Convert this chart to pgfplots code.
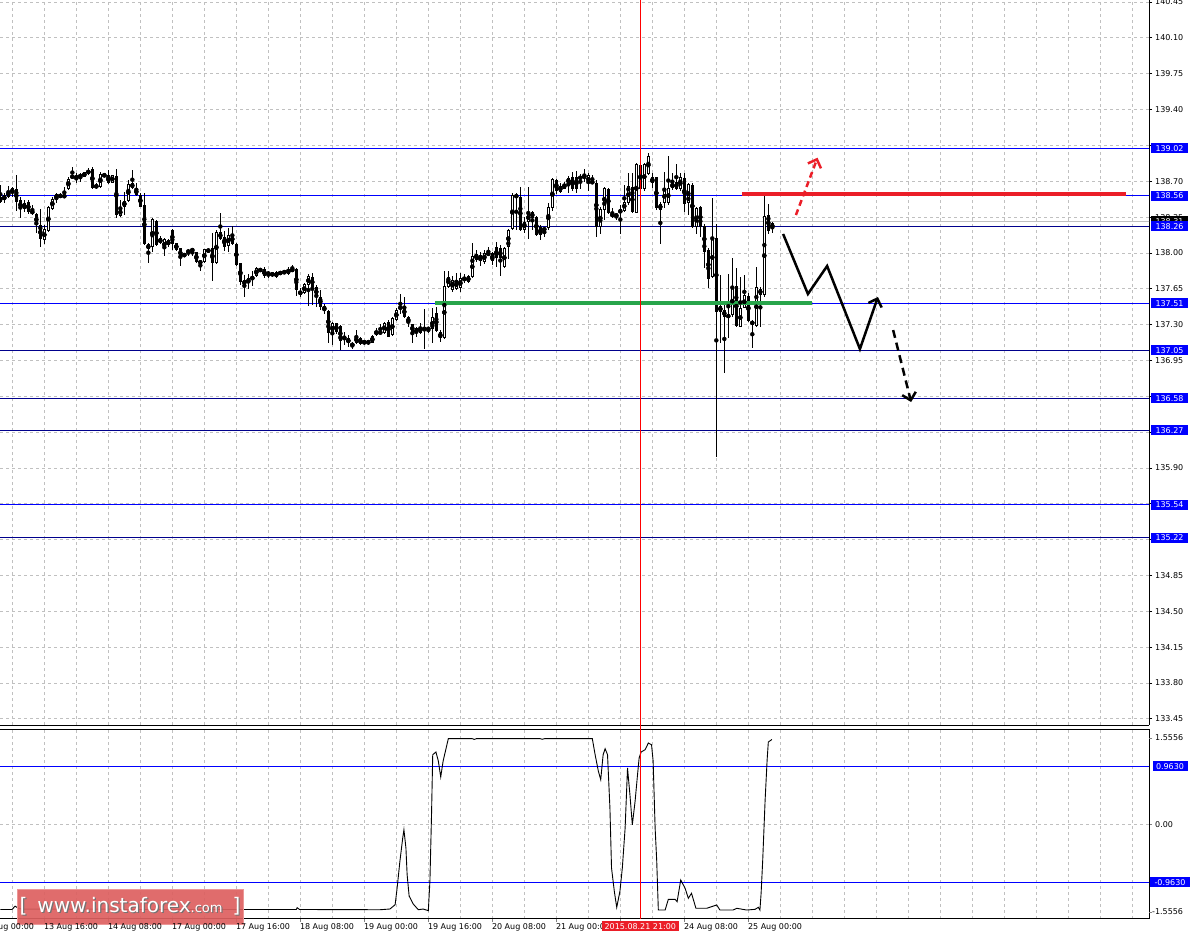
\documentclass[border=0pt]{standalone}
\usepackage{fontspec}
\setmainfont{DejaVu Sans}
\usepackage{pgfplots}
\usepackage{pgfplotstable}
\pgfplotsset{compat=1.18}
\usetikzlibrary{arrows.meta}

\definecolor{mtgrid}{RGB}{192,192,192}
\definecolor{lvlblue}{RGB}{0,0,255}
\definecolor{lvldark}{RGB}{0,0,140}
\definecolor{mtred}{RGB}{235,30,40}
\definecolor{mtgreen}{RGB}{40,165,75}
\definecolor{wmred}{RGB}{221,96,96}
\definecolor{wmedge}{RGB}{236,150,150}

% bar index, open, high, low, close (H1 bars)
\pgfplotstableread{
k o h l c
0 138.500 138.663 138.484 138.549
1 138.517 138.582 138.491 138.566
2 138.549 138.653 138.533 138.605
3 138.582 138.647 138.549 138.631
4 138.621 138.761 138.413 138.500
5 138.517 138.549 138.338 138.426
6 138.426 138.517 138.403 138.491
7 138.500 138.517 138.387 138.403
8 138.419 138.468 138.370 138.380
9 138.380 138.387 138.191 138.273
10 138.273 138.426 138.061 138.133
11 138.126 138.273 138.084 138.230
12 138.217 138.458 138.207 138.445
13 138.426 138.549 138.419 138.533
14 138.523 138.588 138.484 138.572
15 138.543 138.582 138.533 138.572
16 138.566 138.647 138.533 138.543
17 138.621 138.745 138.614 138.728
18 138.738 138.842 138.728 138.751
19 138.751 138.777 138.680 138.732
20 138.738 138.784 138.696 138.767
21 138.745 138.793 138.738 138.787
22 138.771 138.826 138.761 138.810
23 138.819 138.842 138.621 138.631
24 138.663 138.680 138.621 138.640
25 138.640 138.793 138.637 138.771
26 138.745 138.784 138.738 138.771
27 138.761 138.810 138.673 138.680
28 138.686 138.767 138.680 138.761
29 138.754 138.816 138.338 138.370
30 138.361 138.517 138.354 138.435
31 138.445 138.598 138.370 138.510
32 138.510 138.712 138.500 138.673
33 138.686 138.810 138.621 138.631
34 138.631 138.680 138.556 138.566
35 138.566 138.582 138.445 138.452
36 138.468 138.582 138.077 138.087
37 138.087 138.100 137.905 138.035
38 138.055 138.338 138.012 138.328
39 138.312 138.321 138.068 138.077
40 138.094 138.165 138.084 138.142
41 138.035 138.142 137.970 138.133
42 138.126 138.133 138.061 138.077
43 138.224 138.230 138.029 138.087
44 138.094 138.100 138.022 138.029
45 138.045 138.052 137.875 137.957
46 137.963 138.002 137.957 137.996
47 138.002 138.035 137.970 138.029
48 138.022 138.042 137.970 138.035
49 138.006 138.012 137.898 137.915
50 137.915 137.931 137.827 137.905
51 137.915 138.042 137.898 138.035
52 138.012 138.042 138.002 138.035
53 138.045 138.198 137.729 137.898
54 137.898 138.230 137.889 138.207
55 138.207 138.393 138.126 138.133
56 138.152 138.217 138.019 138.061
57 138.068 138.240 138.012 138.175
58 138.185 138.263 138.081 138.087
59 138.087 138.094 137.872 137.882
60 137.898 137.905 137.687 137.719
61 137.736 137.784 137.573 137.687
62 137.703 137.791 137.654 137.752
63 137.736 137.827 137.677 137.775
64 137.775 137.866 137.768 137.849
65 137.827 137.849 137.817 137.840
66 137.846 137.859 137.752 137.775
67 137.784 137.827 137.752 137.817
68 137.810 137.817 137.768 137.775
69 137.762 137.827 137.752 137.817
70 137.801 137.810 137.798 137.807
71 137.807 137.830 137.801 137.817
72 137.794 137.866 137.784 137.843
73 137.840 137.882 137.817 137.827
74 137.843 137.849 137.583 137.638
75 137.632 137.654 137.573 137.589
76 137.606 137.703 137.599 137.693
77 137.687 137.794 137.482 137.775
78 137.768 137.807 137.492 137.664
79 137.671 137.687 137.475 137.573
80 137.573 137.638 137.443 137.475
81 137.485 137.501 137.404 137.436
82 137.436 137.443 137.123 137.221
83 137.215 137.329 137.101 137.312
84 137.312 137.319 137.208 137.231
85 137.286 137.296 137.052 137.143
86 137.156 137.231 137.101 137.189
87 137.166 137.198 137.085 137.124
88 137.124 137.133 137.059 137.085
89 137.117 137.247 137.111 137.189
90 137.166 137.182 137.101 137.111
91 137.127 137.149 137.101 137.133
92 137.143 137.149 137.101 137.117
93 137.124 137.198 137.117 137.189
94 137.198 137.264 137.189 137.241
95 137.215 137.306 137.208 137.231
96 137.215 137.329 137.208 137.319
97 137.329 137.345 137.176 137.182
98 137.198 137.377 137.192 137.361
99 137.345 137.459 137.338 137.443
100 137.449 137.605 137.404 137.482
101 137.475 137.573 137.361 137.377
102 137.377 137.384 137.273 137.312
103 137.306 137.312 137.123 137.221
104 137.215 137.280 137.182 137.264
105 137.221 137.319 137.208 137.280
106 137.273 137.449 137.059 137.247
107 137.273 137.280 137.215 137.247
108 137.254 137.459 137.117 137.371
109 137.409 137.475 137.231 137.241
110 137.231 137.247 137.133 137.166
111 137.166 137.827 137.156 137.677
112 137.671 137.827 137.654 137.768
113 137.638 137.775 137.622 137.736
114 137.644 137.801 137.638 137.736
115 137.654 137.807 137.622 137.752
116 137.762 137.794 137.709 137.729
117 137.719 137.784 137.703 137.775
118 137.762 138.094 137.752 137.970
119 137.931 138.029 137.915 137.990
120 137.980 138.012 137.872 137.925
121 137.915 138.029 137.898 137.996
122 137.983 138.055 137.970 138.002
123 137.996 138.012 137.882 137.925
124 138.061 138.110 137.866 137.947
125 138.045 138.078 137.775 137.947
126 137.859 138.061 137.849 138.045
127 138.055 138.240 137.947 138.224
128 138.230 138.582 138.224 138.566
129 138.566 138.582 138.224 138.543
130 138.549 138.647 138.217 138.224
131 138.224 138.354 138.198 138.305
132 138.305 138.647 138.133 138.387
133 138.403 138.413 138.224 138.338
134 138.348 138.361 138.165 138.175
135 138.256 138.273 138.126 138.175
136 138.224 138.256 138.152 138.240
137 138.240 138.491 138.230 138.445
138 138.435 138.728 138.413 138.719
139 138.712 138.719 138.575 138.608
140 138.653 138.680 138.582 138.598
141 138.631 138.696 138.621 138.673
142 138.680 138.751 138.588 138.728
143 138.738 138.793 138.608 138.621
144 138.738 138.803 138.588 138.621
145 138.719 138.771 138.621 138.751
146 138.728 138.816 138.696 138.761
147 138.680 138.777 138.608 138.761
148 138.696 138.761 138.680 138.686
149 138.686 138.712 138.152 138.250
150 138.257 138.452 138.185 138.426
151 138.419 138.641 138.322 138.631
152 138.621 138.631 138.380 138.393
153 138.393 138.436 138.338 138.348
154 138.354 138.393 138.322 138.380
155 138.387 138.468 138.185 138.426
156 138.413 138.664 138.403 138.501
157 138.485 138.778 138.468 138.654
158 138.641 138.778 138.393 138.403
159 138.393 138.882 138.387 138.869
160 138.859 138.875 138.615 138.621
161 138.621 138.882 138.608 138.869
162 138.771 138.979 138.761 138.947
163 138.680 138.778 138.631 138.745
164 138.738 138.745 138.419 138.436
165 138.426 138.501 138.087 138.478
166 138.485 138.794 138.445 138.621
167 138.491 138.947 138.468 138.631
168 138.631 138.778 138.615 138.686
169 138.696 138.869 138.615 138.621
170 138.621 138.784 138.608 138.738
171 138.729 138.778 138.403 138.478
172 138.485 138.686 138.371 138.673
173 138.664 138.680 138.240 138.250
174 138.250 138.452 138.185 138.436
175 138.452 138.459 138.159 138.250
176 138.263 138.282 137.849 138.012
177 138.028 138.045 137.654 137.745
178 137.762 138.533 137.752 138.152
179 138.142 138.282 136.010 137.426
180 137.482 137.784 137.124 137.426
181 137.443 137.491 136.831 137.378
182 137.371 137.794 137.166 137.394
183 137.394 137.947 137.378 137.664
184 137.677 137.849 137.280 137.286
185 137.280 137.762 137.273 137.459
186 137.459 137.784 137.459 137.589
187 137.579 137.605 137.329 137.338
188 137.338 137.345 137.068 137.296
189 137.286 137.859 137.280 137.664
190 137.654 137.664 137.273 137.589
191 137.589 138.588 137.566 138.360
192 138.370 138.478 138.191 138.217
193 138.234 138.305 138.198 138.295
}\candles

% oscillator in the lower window
\pgfplotstableread{
x v
0 -1.415
2.9 -1.415
3.7 -1.36
4.4 -1.39
5.4 -1.41
28.7 -1.41
29.2 -1.385
29.9 -1.415
74.0 -1.415
74.2 -1.385
74.8 -1.415
94.9 -1.419
97.4 -1.407
98.7 -1.336
99.2 -1.058
99.9 -0.610
100.6 -0.228
100.9 -0.090
101.4 -0.394
101.7 -0.837
102.2 -1.191
103.2 -1.322
104.5 -1.419
105.7 -1.407
107.0 -1.435
107.4 -0.942
107.8 0.159
108.1 1.156
108.9 1.201
109.5 1.051
110.1 0.786
110.7 1.051
112.0 1.422
118.0 1.422
118.5 1.410
119.0 1.422
135.0 1.422
135.5 1.412
136.0 1.422
148.0 1.422
148.7 1.156
149.5 0.885
150.1 0.741
150.7 1.156
151.2 1.256
151.8 1.156
152.4 0.271
152.8 -0.726
153.5 -1.113
154.1 -1.38
154.9 -1.113
155.5 -0.726
156.2 -0.061
156.8 0.935
157.4 0.492
158.0 -0.007
158.7 0.387
159.3 0.824
159.7 1.101
160.2 1.201
161.2 1.239
162.0 1.350
162.8 1.322
163.2 1.051
163.7 -0.061
164.1 -0.610
164.5 -1.424
166.2 -1.424
167.0 -1.246
168.7 -1.246
169.2 -1.286
170.1 -0.925
171.2 -1.063
172.0 -1.229
172.8 -1.146
173.9 -1.395
176.6 -1.395
179.1 -1.340
179.9 -1.424
183.2 -1.424
184.1 -1.395
186.6 -1.424
188.7 -1.412
189.5 -1.379
189.9 -1.424
190.2 -1.141
190.6 -0.593
191.2 0.404
191.7 1.068
192.0 1.367
192.9 1.409
}\osc

\newcommand\py[1]{-725+(#1-133.39)*102.4}
\newcommand\oy[1]{-918.7+(#1+1.568)*60.2}

\tikzset{
  lbl/.style={font=\fontsize{8}{9}\selectfont, inner sep=0pt},
  pbox/.style={lbl, fill=lvlblue, text=white, minimum width=37pt, minimum height=10pt},
}

\pgfplotsset{
  mtwin/.style={
    scale only axis, width=1149pt, anchor=south west,
    xmin=-0.0825, xmax=287.17,
    axis line style={black, line width=1pt, -},
    tick align=outside, major tick length=3pt,
    every tick label/.append style={font=\fontsize{8}{9}\selectfont},
    major grid style={mtgrid, dash pattern=on 3pt off 3pt, line width=0.8pt},
    minor grid style={mtgrid, dash pattern=on 3pt off 3pt, line width=0.8pt},
  },
  candle/.style 2 args={only marks, mark=none,
    error bars/.cd, y dir=both, y explicit, error mark=none,
    error bar style={line width=#1, draw=#2, solid}},
}

\begin{document}
\begin{tikzpicture}[x=1pt,y=1pt]
\useasboundingbox (0,0) rectangle (1191,-941);

\begin{axis}[mtwin, at={(0pt,-725pt)}, height=725pt,
  ymin=133.39, ymax=140.47,
  axis x line*=bottom, axis y line*=right,
  xtick={3,11,...,283}, xticklabels={}, xtick style={draw=none},
  ytick={133.45,133.80,134.15,134.50,134.85,135.20,135.55,135.90,136.25,136.60,136.95,137.30,137.65,138.00,138.35,138.70,139.05,139.40,139.75,140.10,140.45},
  yticklabels={133.45,133.80,134.15,134.50,134.85,{},{},135.90,{},{},136.95,137.30,137.65,138.00,{},138.70,{},139.40,139.75,140.10,140.45},
  ytick style={black, line width=0.8pt},
  yticklabel style={anchor=west, inner sep=0pt, xshift=3pt},
  grid=major,
]
% level lines
\addplot[lvlblue, line width=1pt] coordinates {(-1,139.02) (290,139.02)};
\addplot[lvlblue, line width=1pt] coordinates {(-1,138.56) (290,138.56)};
\addplot[black!25, line width=1pt] coordinates {(-1,138.31) (290,138.31)};
\addplot[lvldark, line width=1pt] coordinates {(-1,138.26) (290,138.26)};
\addplot[lvlblue, line width=1pt] coordinates {(-1,137.51) (290,137.51)};
\addplot[lvldark, line width=1pt] coordinates {(-1,137.05) (290,137.05)};
\addplot[lvldark, line width=1pt] coordinates {(-1,136.58) (290,136.58)};
\addplot[lvldark, line width=1pt] coordinates {(-1,136.27) (290,136.27)};
\addplot[lvlblue, line width=1pt] coordinates {(-1,135.54) (290,135.54)};
\addplot[lvldark, line width=1pt] coordinates {(-1,135.22) (290,135.22)};
% candles: wicks, bodies, hollow insides of up bars
\addplot[candle={1pt}{black}] table[x=k, y expr={(\thisrow{h}+\thisrow{l})/2}, y error expr={(\thisrow{h}-\thisrow{l})/2}] {\candles};
\addplot[candle={3.5pt}{black}] table[x=k, y expr={(\thisrow{o}+\thisrow{c})/2}, y error expr={max(abs(\thisrow{c}-\thisrow{o})/2,0.006)}] {\candles};
\addplot[candle={1.5pt}{white}] table[x=k, y expr={(\thisrow{o}+\thisrow{c})/2}, y error expr={max((\thisrow{c}-\thisrow{o})/2-0.0098,0)}] {\candles};
% drawn analysis
\addplot[mtgreen, line width=3.5pt] coordinates {(108.7,137.51) (202.9,137.51)};
\addplot[mtred, line width=3.5pt] coordinates {(185.4,138.575) (281.4,138.575)};
\addplot[mtred, line width=2.5pt, dash pattern=on 6pt off 4pt, -{Straight Barb[length=7pt,width=14pt]}] coordinates {(198.9,138.37) (204.3,138.93)};
\addplot[black, line width=2.5pt, -{Straight Barb[length=7pt,width=14pt]}] coordinates {(195.7,138.185) (201.9,137.599) (206.7,137.872) (214.9,137.062) (219.4,137.570)};
\addplot[black, line width=2.5pt, dash pattern=on 8pt off 5pt, -{Straight Barb[length=7pt,width=14pt]}] coordinates {(223.2,137.247) (227.7,136.544)};
% vertical line
\addplot[red, line width=1pt] coordinates {(160,133.0) (160,141.0)};
\end{axis}

\begin{axis}[mtwin, at={(0pt,-918.7pt)}, height=189.7pt,
  ymin=-1.568, ymax=1.583,
  axis x line*=box, axis y line*=right,
  xtick={11,27,...,187}, xticklabels={}, xtick pos=left,
  minor xtick={3,11,...,283}, minor tick length=0pt,
  ytick={0}, yticklabels={}, ytick pos=right,
  extra y ticks={-1.457,1.434}, extra y tick labels={}, extra y tick style={grid=none},
  grid=both,
]
\addplot[lvlblue, line width=1pt] coordinates {(-1,0.963) (290,0.963)};
\addplot[lvlblue, line width=1pt] coordinates {(-1,-0.963) (290,-0.963)};
\addplot[black, line width=0.9pt] table[x=x, y=v] {\osc};
\addplot[red, line width=1pt] coordinates {(160,-2) (160,2)};
\end{axis}

% gap between the windows
\draw[red, line width=1pt] (640.3,-724) -- (640.3,-730);

% price labels on the right
\node[lbl, anchor=west] at (1155,{\py{138.35}}) {138.35};
\node[lbl, fill=black, text=white, minimum width=37pt, minimum height=10pt] at (1169.5,{\py{138.31}}) {138.31};
\foreach \p in {139.02,138.56,138.26,137.51,137.05,136.58,136.27,135.54,135.22}
  \node[pbox] at (1169.5,{\py{\p}}) {\p};

% oscillator labels
\node[lbl, anchor=west] at (1155,{\oy{1.434}}) {1.5556};
\node[lbl, anchor=west] at (1155,{\oy{0}}) {0.00};
\node[lbl, anchor=west] at (1152,{\oy{-1.457}}) {-1.5556};
\node[pbox, minimum width=35pt] at (1170,{\oy{0.963}}) {0.9630};
\node[pbox, minimum width=40pt] at (1170,{\oy{-0.963}}) {-0.9630};

% watermark
\node[fill=wmred, draw=wmedge, line width=1pt, fill opacity=0.92, minimum width=226pt, minimum height=35pt] at (130,-906.5) {};
\node[text=black!55, font=\fontsize{20}{20}\selectfont, inner sep=0pt] at (131.2,-907.7) {[\enspace www.instaforex{\fontsize{13}{13}\selectfont .com}\enspace]};
\node[text=white, font=\fontsize{20}{20}\selectfont, inner sep=0pt] at (130,-906.5) {[\enspace www.instaforex{\fontsize{13}{13}\selectfont .com}\enspace]};

% time labels
\foreach \k/\t in {-5/13 Aug 00:00, 11/13 Aug 16:00, 27/14 Aug 08:00, 43/17 Aug 00:00, 59/17 Aug 16:00, 75/18 Aug 08:00, 91/19 Aug 00:00, 107/19 Aug 16:00, 123/20 Aug 08:00, 139/21 Aug 00:00, 171/24 Aug 08:00, 187/25 Aug 00:00}
  \node[lbl, anchor=north west] at ({0.33+4*\k-0.5},-923.5) {\t};
\node[lbl, fill=mtred, text=white, inner xsep=2.5pt, inner ysep=2pt, anchor=north] at (640.3,-921) {2015.08.21 21:00};
\end{tikzpicture}
\end{document}
